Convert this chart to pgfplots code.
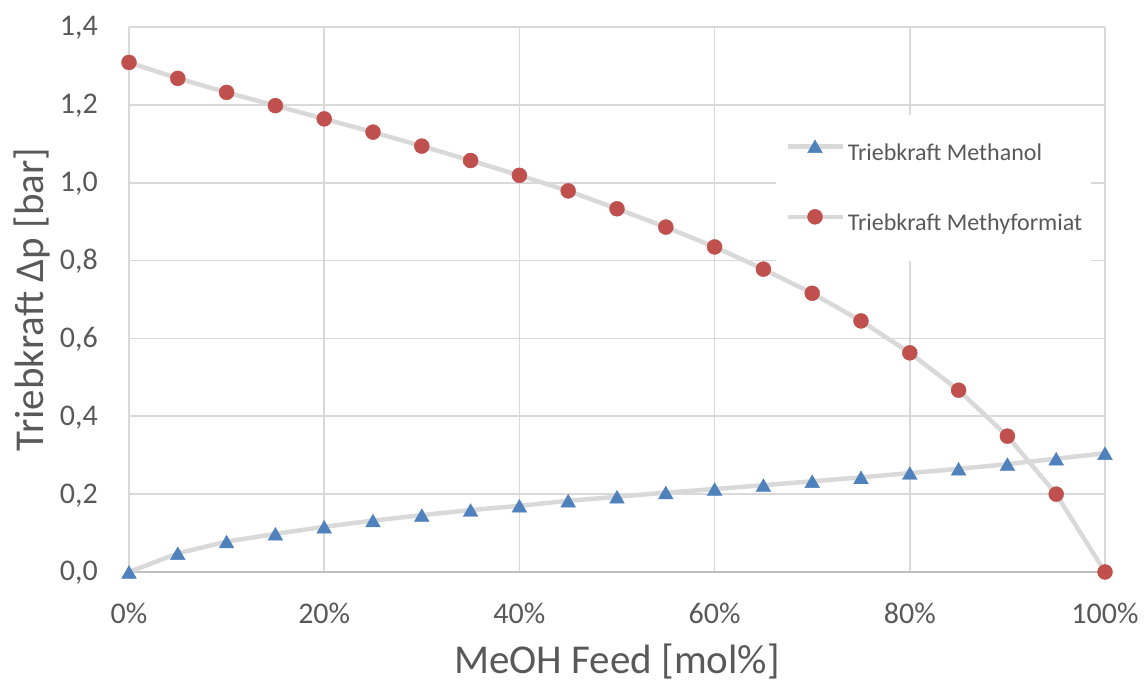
\documentclass[border=0pt]{standalone}
\usepackage{pgfplots}
\pgfplotsset{compat=1.18}
\usepackage{fontspec}
\setmainfont{Carlito}
\definecolor{txt}{HTML}{595959}
\definecolor{gridc}{HTML}{D9D9D9}
\definecolor{axc}{HTML}{BFBFBF}
\definecolor{mred}{HTML}{C0504D}
\definecolor{mblue}{HTML}{4F81BD}

% Triebkraft (bar) over MeOH feed (mol%)
\pgfplotstableread{
x   y
0   0.000
5   0.048
10  0.078
15  0.098
20  0.116
25  0.132
30  0.146
35  0.159
40  0.170
45  0.183
50  0.193
55  0.204
60  0.213
65  0.223
70  0.233
75  0.243
80  0.254
85  0.265
90  0.277
95  0.291
100 0.305
}\methanol
\pgfplotstableread{
x   y
0   1.309
5   1.268
10  1.232
15  1.198
20  1.164
25  1.130
30  1.094
35  1.057
40  1.019
45  0.979
50  0.933
55  0.886
60  0.835
65  0.778
70  0.716
75  0.645
80  0.563
85  0.467
90  0.349
95  0.200
100 0.000
}\methylformiat

\begin{document}
\begin{tikzpicture}
\useasboundingbox (0,0) rectangle (1144pt,683pt);
\begin{axis}[
  at={(129pt,111pt)}, anchor=south west,
  scale only axis, width=976pt, height=545pt,
  xmin=0, xmax=100, ymin=0, ymax=1.4,
  xtick={0,20,40,60,80,100},
  ytick={0,0.2,0.4,0.6,0.8,1.0,1.2,1.4},
  clip=false,
  axis line style={draw=none},
  major tick length=0pt,
  grid=major,
  major grid style={gridc, line width=1.7pt},
  extra y ticks={0}, extra y tick labels={},
  extra y tick style={major grid style={axc, line width=1.9pt}},
  /pgf/number format/assume math mode=true,
  tick label style={font=\fontsize{30}{36}\selectfont, text=txt, inner sep=0pt},
  yticklabel style={anchor=base east, xshift=-31pt, yshift=-9pt,
    /pgf/number format/.cd, use comma, fixed, fixed zerofill, precision=1},
  xticklabel={\pgfmathprintnumber[fixed,precision=0]{\tick}\%},
  xticklabel style={anchor=base, yshift=-51pt},
  label style={font=\fontsize{41}{48}\selectfont, text=txt, inner sep=0pt},
  xlabel={MeOH Feed [mol\%]},
  xlabel style={at={(axis description cs:0.5,0)}, anchor=base, yshift=-101pt},
  ylabel={Triebkraft Δp [bar]},
  % the label is rotated, so its own y direction points to the left
  ylabel style={at={(axis description cs:0,0.5)}, anchor=south, yshift=79pt},
  legend style={at={(axis description cs:0.663,0.839)}, anchor=north west,
    draw=none, fill=white, inner xsep=9pt, inner ysep=25pt,
    row sep=44pt, column sep=3pt,
    font=\fontsize{24}{28}\selectfont, text=txt,
    nodes={inner sep=0pt, text height=17pt, text depth=5pt}},
  legend cell align=left,
  legend image code/.code={%
    \draw[mark repeat=2, mark phase=2]
      plot coordinates {(0pt,8pt) (27.5pt,8pt) (55pt,8pt)};},
]
\addplot[color=gridc, line width=4.5pt, mark=triangle*, mark size=8.5pt,
  mark options={fill=mblue, draw=mblue, line width=0.4pt, yshift=-2.1pt}]
  table[x=x, y=y] {\methanol};
\addlegendentry{Triebkraft Methanol}
\addplot[color=gridc, line width=4.5pt, mark=*, mark size=7.5pt,
  mark options={fill=mred, draw=mred, line width=0.4pt}]
  table[x=x, y=y] {\methylformiat};
\addlegendentry{Triebkraft Methyformiat}
\end{axis}
\end{tikzpicture}
\end{document}
